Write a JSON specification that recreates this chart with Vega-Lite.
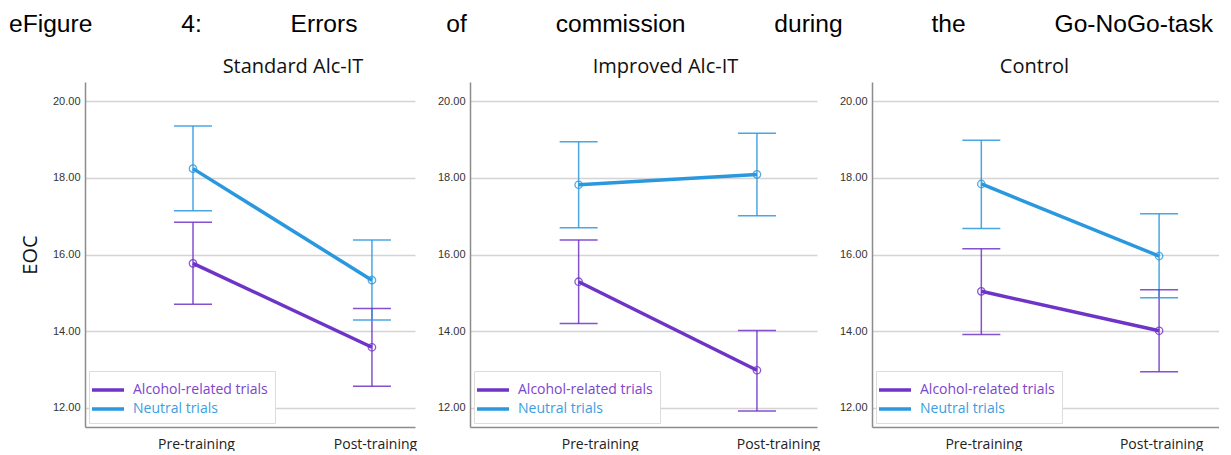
{
  "$schema": "https://vega.github.io/schema/vega-lite/v6.json",
  "background": "white",
  "padding": {"left": 9, "top": 12, "right": 0, "bottom": 0},
  "title": {
    "text": "eFigure\u00a0\u00a0\u00a0\u00a0\u00a0\u00a0\u00a0\u00a0\u00a0\u00a0\u00a0\u00a0\u00a04:\u00a0\u00a0\u00a0\u00a0\u00a0\u00a0\u00a0\u00a0\u00a0\u00a0\u00a0\u00a0\u00a0Errors\u00a0\u00a0\u00a0\u00a0\u00a0\u00a0\u00a0\u00a0\u00a0\u00a0\u00a0\u00a0\u00a0of\u00a0\u00a0\u00a0\u00a0\u00a0\u00a0\u00a0\u00a0\u00a0\u00a0\u00a0\u00a0\u00a0commission\u00a0\u00a0\u00a0\u00a0\u00a0\u00a0\u00a0\u00a0\u00a0\u00a0\u00a0\u00a0\u00a0during\u00a0\u00a0\u00a0\u00a0\u00a0\u00a0\u00a0\u00a0\u00a0\u00a0\u00a0\u00a0\u00a0the\u00a0\u00a0\u00a0\u00a0\u00a0\u00a0\u00a0\u00a0\u00a0\u00a0\u00a0\u00a0\u00a0Go-NoGo-task",
    "anchor": "start",
    "frame": "group",
    "dx": -76,
    "font": "Liberation Sans",
    "fontSize": 24.6,
    "fontWeight": "normal",
    "color": "#000000",
    "baseline": "alphabetic",
    "offset": 0
  },
  "data": {
    "values": [
      {"panel": "Standard Alc-IT", "time": "Pre-training", "trial": "Alcohol-related trials", "mean": 15.77, "lo": 14.70, "hi": 16.84},
      {"panel": "Standard Alc-IT", "time": "Pre-training", "trial": "Neutral trials", "mean": 18.24, "lo": 17.14, "hi": 19.35},
      {"panel": "Standard Alc-IT", "time": "Post-training", "trial": "Alcohol-related trials", "mean": 13.58, "lo": 12.56, "hi": 14.59},
      {"panel": "Standard Alc-IT", "time": "Post-training", "trial": "Neutral trials", "mean": 15.33, "lo": 14.29, "hi": 16.38},
      {"panel": "Improved Alc-IT", "time": "Pre-training", "trial": "Alcohol-related trials", "mean": 15.29, "lo": 14.20, "hi": 16.38},
      {"panel": "Improved Alc-IT", "time": "Pre-training", "trial": "Neutral trials", "mean": 17.82, "lo": 16.70, "hi": 18.94},
      {"panel": "Improved Alc-IT", "time": "Post-training", "trial": "Alcohol-related trials", "mean": 12.98, "lo": 11.92, "hi": 14.02},
      {"panel": "Improved Alc-IT", "time": "Post-training", "trial": "Neutral trials", "mean": 18.09, "lo": 17.01, "hi": 19.16},
      {"panel": "Control", "time": "Pre-training", "trial": "Alcohol-related trials", "mean": 15.04, "lo": 13.91, "hi": 16.15},
      {"panel": "Control", "time": "Pre-training", "trial": "Neutral trials", "mean": 17.84, "lo": 16.68, "hi": 18.98},
      {"panel": "Control", "time": "Post-training", "trial": "Alcohol-related trials", "mean": 14.01, "lo": 12.94, "hi": 15.08},
      {"panel": "Control", "time": "Post-training", "trial": "Neutral trials", "mean": 15.96, "lo": 14.87, "hi": 17.06}
    ]
  },
  "bounds": "flush",
  "spacing": 55,
  "resolve": {"scale": {"color": "independent", "y": "independent", "x": "independent"}, "legend": {"color": "independent"}},
  "hconcat": [
    {
      "width": 330,
      "height": 345,
      "title": {"text": "Standard Alc-IT", "dx": 43},
      "transform": [{"filter": "datum.panel === 'Standard Alc-IT'"}],
      "encoding": {
        "x": {"field": "time", "type": "nominal", "sort": ["Pre-training", "Post-training"], "scale": {"type": "point", "padding": 0.422, "align": 0.715}, "axis": {"title": null, "labelOffset": 3}},
        "color": {"field": "trial", "type": "nominal", "scale": {"domain": ["Alcohol-related trials", "Neutral trials"], "range": ["#6e33c7", "#2a98df"]}, "title": null,
          "legend": {"encode": {"labels": {"update": {"fill": {"signal": "datum.value === 'Neutral trials' ? '#3a9ee0' : '#7b45cc'"}}}}}}
      },
      "layer": [
        {"mark": {"type": "rule", "strokeWidth": 1.5, "opacity": 0.85}, "encoding": {"y": {"field": "lo", "type": "quantitative", "scale": {"domain": [11.5, 20.5], "nice": false, "zero": false}, "axis": {"title": "EOC", "values": [12, 14, 16, 18, 20], "format": ".2f"}}, "y2": {"field": "hi"}}},
        {"mark": {"type": "tick", "orient": "horizontal", "size": 38, "thickness": 1.5, "opacity": 0.85}, "encoding": {"y": {"field": "lo", "type": "quantitative"}}},
        {"mark": {"type": "tick", "orient": "horizontal", "size": 38, "thickness": 1.5, "opacity": 0.85}, "encoding": {"y": {"field": "hi", "type": "quantitative"}}},
        {"mark": {"type": "line", "strokeWidth": 3.5}, "encoding": {"y": {"field": "mean", "type": "quantitative"}}},
        {"mark": {"type": "point", "shape": "circle", "filled": false, "size": 55, "strokeWidth": 1.3, "opacity": 0.8}, "encoding": {"y": {"field": "mean", "type": "quantitative"}}}
      ]
    },
    {
      "width": 347,
      "height": 345,
      "title": {"text": "Improved Alc-IT", "dx": 22},
      "transform": [{"filter": "datum.panel === 'Improved Alc-IT'"}],
      "encoding": {
        "x": {"field": "time", "type": "nominal", "sort": ["Pre-training", "Post-training"], "scale": {"type": "point", "padding": 0.473, "align": 0.644}, "axis": {"title": null, "labelOffset": 21}},
        "color": {"field": "trial", "type": "nominal", "scale": {"domain": ["Alcohol-related trials", "Neutral trials"], "range": ["#6e33c7", "#2a98df"]}, "title": null,
          "legend": {"encode": {"labels": {"update": {"fill": {"signal": "datum.value === 'Neutral trials' ? '#3a9ee0' : '#7b45cc'"}}}}}}
      },
      "layer": [
        {"mark": {"type": "rule", "strokeWidth": 1.5, "opacity": 0.85}, "encoding": {"y": {"field": "lo", "type": "quantitative", "scale": {"domain": [11.5, 20.5], "nice": false, "zero": false}, "axis": {"title": null, "values": [12, 14, 16, 18, 20], "format": ".2f"}}, "y2": {"field": "hi"}}},
        {"mark": {"type": "tick", "orient": "horizontal", "size": 38, "thickness": 1.5, "opacity": 0.85}, "encoding": {"y": {"field": "lo", "type": "quantitative"}}},
        {"mark": {"type": "tick", "orient": "horizontal", "size": 38, "thickness": 1.5, "opacity": 0.85}, "encoding": {"y": {"field": "hi", "type": "quantitative"}}},
        {"mark": {"type": "line", "strokeWidth": 3.5}, "encoding": {"y": {"field": "mean", "type": "quantitative"}}},
        {"mark": {"type": "point", "shape": "circle", "filled": false, "size": 55, "strokeWidth": 1.3, "opacity": 0.8}, "encoding": {"y": {"field": "mean", "type": "quantitative"}}}
      ]
    },
    {
      "width": 347,
      "height": 345,
      "title": {"text": "Control", "dx": -11},
      "transform": [{"filter": "datum.panel === 'Control'"}],
      "encoding": {
        "x": {"field": "time", "type": "nominal", "sort": ["Pre-training", "Post-training"], "scale": {"type": "point", "padding": 0.476, "align": 0.646}, "axis": {"title": null, "labelOffset": 2}},
        "color": {"field": "trial", "type": "nominal", "scale": {"domain": ["Alcohol-related trials", "Neutral trials"], "range": ["#6e33c7", "#2a98df"]}, "title": null,
          "legend": {"encode": {"labels": {"update": {"fill": {"signal": "datum.value === 'Neutral trials' ? '#3a9ee0' : '#7b45cc'"}}}}}}
      },
      "layer": [
        {"mark": {"type": "rule", "strokeWidth": 1.5, "opacity": 0.85}, "encoding": {"y": {"field": "lo", "type": "quantitative", "scale": {"domain": [11.5, 20.5], "nice": false, "zero": false}, "axis": {"title": null, "values": [12, 14, 16, 18, 20], "format": ".2f"}}, "y2": {"field": "hi"}}},
        {"mark": {"type": "tick", "orient": "horizontal", "size": 38, "thickness": 1.5, "opacity": 0.85}, "encoding": {"y": {"field": "lo", "type": "quantitative"}}},
        {"mark": {"type": "tick", "orient": "horizontal", "size": 38, "thickness": 1.5, "opacity": 0.85}, "encoding": {"y": {"field": "hi", "type": "quantitative"}}},
        {"mark": {"type": "line", "strokeWidth": 3.5}, "encoding": {"y": {"field": "mean", "type": "quantitative"}}},
        {"mark": {"type": "point", "shape": "circle", "filled": false, "size": 55, "strokeWidth": 1.3, "opacity": 0.8}, "encoding": {"y": {"field": "mean", "type": "quantitative"}}}
      ]
    }
  ],
  "config": {
    "view": {"stroke": null},
    "title": {"font": "Open Sans", "fontSize": 20, "fontWeight": "normal", "color": "#111111", "anchor": "middle", "baseline": "alphabetic", "offset": 5},
    "axisX": {"labelAngle": 0, "ticks": false, "grid": false, "domainColor": "#8c8c8c", "domainWidth": 1.5, "labelFont": "Open Sans", "labelFontSize": 14, "labelColor": "#222222", "labelPadding": 10},
    "axisY": {"ticks": false, "grid": true, "gridColor": "#d4d4d4", "gridWidth": 1.5, "domainColor": "#8c8c8c", "domainWidth": 1.5, "labelFont": "Liberation Sans", "labelFontSize": 11, "labelColor": "#333333", "labelPadding": 5, "titleFont": "Open Sans", "titleFontSize": 20, "titleFontWeight": "normal", "titleColor": "#111111", "titlePadding": 12},
    "legend": {
      "orient": "bottom-left",
      "offset": 4,
      "symbolType": "M-1.6,0L1.6,0",
      "symbolSize": 400,
      "symbolStrokeWidth": 3.5,
      "symbolFillColor": "transparent",
      "labelFont": "Open Sans",
      "labelFontSize": 14,
      "labelOffset": 13,
      "labelLimit": 300,
      "padding": 7,
      "rowPadding": 0,
      "fillColor": "white",
      "strokeColor": "#dcdcdc",
      "symbolOpacity": 1,
      "labelColor": "#7b45cc"
    }
  }
}
